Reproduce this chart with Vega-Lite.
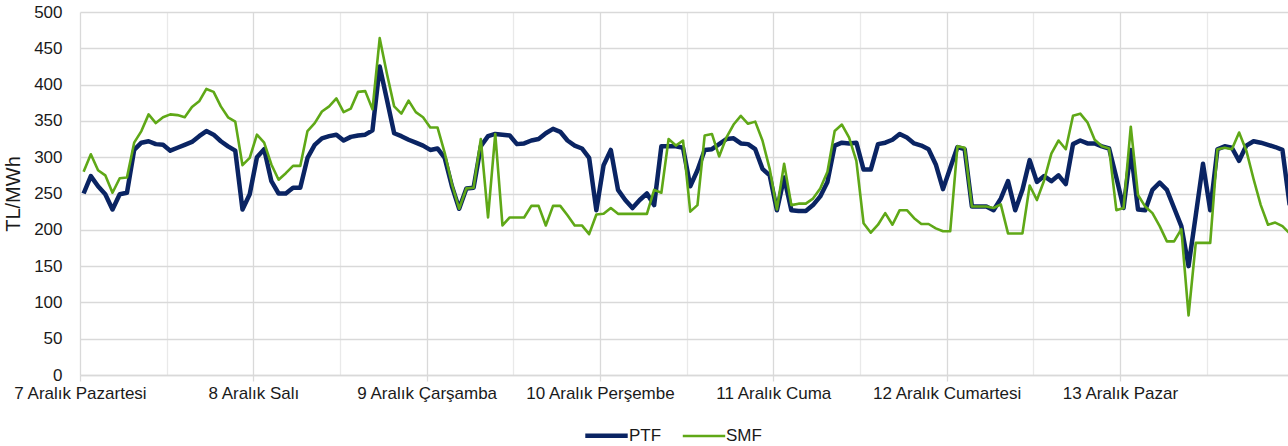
{
  "$schema": "https://vega.github.io/schema/vega-lite/v6.json",
  "width": 1208,
  "height": 363,
  "autosize": {"type": "none"},
  "padding": {"left": 80, "top": 12, "right": 0, "bottom": 71},
  "background": "white",
  "config": {"view": {"stroke": null}, "font": "Liberation Sans"},
  "data": {"values": [
    {"h":0,"PTF":250,"SMF":280},{"h":1,"PTF":274,"SMF":304},{"h":2,"PTF":260,"SMF":282},{"h":3,"PTF":249,"SMF":275},
    {"h":4,"PTF":228,"SMF":251},{"h":5,"PTF":249,"SMF":271},{"h":6,"PTF":251,"SMF":272},{"h":7,"PTF":310,"SMF":320},
    {"h":8,"PTF":320,"SMF":336},{"h":9,"PTF":322,"SMF":359},{"h":10,"PTF":318,"SMF":347},{"h":11,"PTF":317,"SMF":355},
    {"h":12,"PTF":309,"SMF":359},{"h":13,"PTF":313,"SMF":358},{"h":14,"PTF":317,"SMF":355},{"h":15,"PTF":321,"SMF":369},
    {"h":16,"PTF":329,"SMF":377},{"h":17,"PTF":336,"SMF":394},{"h":18,"PTF":331,"SMF":390},{"h":19,"PTF":322,"SMF":370},
    {"h":20,"PTF":315,"SMF":355},{"h":21,"PTF":309,"SMF":349},{"h":22,"PTF":228,"SMF":289},{"h":23,"PTF":249,"SMF":299},
    {"h":24,"PTF":300,"SMF":331},{"h":25,"PTF":311,"SMF":320},{"h":26,"PTF":267,"SMF":290},{"h":27,"PTF":250,"SMF":269},
    {"h":28,"PTF":250,"SMF":278},{"h":29,"PTF":258,"SMF":288},{"h":30,"PTF":258,"SMF":288},{"h":31,"PTF":299,"SMF":336},
    {"h":32,"PTF":317,"SMF":347},{"h":33,"PTF":326,"SMF":363},{"h":34,"PTF":329,"SMF":370},{"h":35,"PTF":331,"SMF":381},
    {"h":36,"PTF":323,"SMF":362},{"h":37,"PTF":328,"SMF":367},{"h":38,"PTF":330,"SMF":390},{"h":39,"PTF":331,"SMF":391},
    {"h":40,"PTF":337,"SMF":366},{"h":41,"PTF":425,"SMF":464},{"h":42,"PTF":379,"SMF":415},{"h":43,"PTF":333,"SMF":370},
    {"h":44,"PTF":329,"SMF":360},{"h":45,"PTF":324,"SMF":378},{"h":46,"PTF":320,"SMF":362},{"h":47,"PTF":316,"SMF":355},
    {"h":48,"PTF":310,"SMF":341},{"h":49,"PTF":312,"SMF":341},{"h":50,"PTF":299,"SMF":306},{"h":51,"PTF":260,"SMF":263},
    {"h":52,"PTF":229,"SMF":229},{"h":53,"PTF":257,"SMF":257},{"h":54,"PTF":258,"SMF":258},{"h":55,"PTF":315,"SMF":325},
    {"h":56,"PTF":329,"SMF":217},{"h":57,"PTF":332,"SMF":332},{"h":58,"PTF":331,"SMF":206},{"h":59,"PTF":330,"SMF":217},
    {"h":60,"PTF":318,"SMF":217},{"h":61,"PTF":319,"SMF":217},{"h":62,"PTF":323,"SMF":233},{"h":63,"PTF":325,"SMF":233},
    {"h":64,"PTF":333,"SMF":206},{"h":65,"PTF":339,"SMF":233},{"h":66,"PTF":335,"SMF":233},{"h":67,"PTF":323,"SMF":220},
    {"h":68,"PTF":316,"SMF":206},{"h":69,"PTF":312,"SMF":206},{"h":70,"PTF":299,"SMF":194},{"h":71,"PTF":227,"SMF":221},
    {"h":72,"PTF":289,"SMF":222},{"h":73,"PTF":310,"SMF":230},{"h":74,"PTF":255,"SMF":222},{"h":75,"PTF":241,"SMF":222},
    {"h":76,"PTF":230,"SMF":222},{"h":77,"PTF":241,"SMF":222},{"h":78,"PTF":250,"SMF":222},{"h":79,"PTF":234,"SMF":255},
    {"h":80,"PTF":315,"SMF":251},{"h":81,"PTF":315,"SMF":325},{"h":82,"PTF":315,"SMF":316},{"h":83,"PTF":313,"SMF":323},
    {"h":84,"PTF":260,"SMF":225},{"h":85,"PTF":282,"SMF":234},{"h":86,"PTF":310,"SMF":330},{"h":87,"PTF":311,"SMF":332},
    {"h":88,"PTF":318,"SMF":301},{"h":89,"PTF":325,"SMF":327},{"h":90,"PTF":326,"SMF":345},{"h":91,"PTF":319,"SMF":357},
    {"h":92,"PTF":318,"SMF":346},{"h":93,"PTF":311,"SMF":349},{"h":94,"PTF":284,"SMF":323},{"h":95,"PTF":275,"SMF":284},
    {"h":96,"PTF":227,"SMF":228},{"h":97,"PTF":272,"SMF":291},{"h":98,"PTF":227,"SMF":234},{"h":99,"PTF":226,"SMF":236},
    {"h":100,"PTF":226,"SMF":236},{"h":101,"PTF":234,"SMF":243},{"h":102,"PTF":246,"SMF":257},{"h":103,"PTF":266,"SMF":280},
    {"h":104,"PTF":316,"SMF":336},{"h":105,"PTF":320,"SMF":345},{"h":106,"PTF":319,"SMF":327},{"h":107,"PTF":320,"SMF":295},
    {"h":108,"PTF":283,"SMF":209},{"h":109,"PTF":283,"SMF":196},{"h":110,"PTF":318,"SMF":207},{"h":111,"PTF":320,"SMF":223},
    {"h":112,"PTF":324,"SMF":207},{"h":113,"PTF":332,"SMF":227},{"h":114,"PTF":327,"SMF":227},{"h":115,"PTF":319,"SMF":216},
    {"h":116,"PTF":316,"SMF":208},{"h":117,"PTF":311,"SMF":208},{"h":118,"PTF":290,"SMF":202},{"h":119,"PTF":256,"SMF":198},
    {"h":120,"PTF":285,"SMF":198},{"h":121,"PTF":314,"SMF":315},{"h":122,"PTF":311,"SMF":313},{"h":123,"PTF":232,"SMF":232},
    {"h":124,"PTF":232,"SMF":232},{"h":125,"PTF":232,"SMF":232},{"h":126,"PTF":227,"SMF":230},{"h":127,"PTF":243,"SMF":235},
    {"h":128,"PTF":267,"SMF":195},{"h":129,"PTF":227,"SMF":195},{"h":130,"PTF":255,"SMF":195},{"h":131,"PTF":296,"SMF":261},
    {"h":132,"PTF":266,"SMF":241},{"h":133,"PTF":274,"SMF":268},{"h":134,"PTF":267,"SMF":305},{"h":135,"PTF":275,"SMF":323},
    {"h":136,"PTF":263,"SMF":311},{"h":137,"PTF":318,"SMF":357},{"h":138,"PTF":323,"SMF":360},{"h":139,"PTF":319,"SMF":348},
    {"h":140,"PTF":319,"SMF":324},{"h":141,"PTF":315,"SMF":315},{"h":142,"PTF":312,"SMF":312},{"h":143,"PTF":272,"SMF":227},
    {"h":144,"PTF":230,"SMF":230},{"h":145,"PTF":310,"SMF":342},{"h":146,"PTF":228,"SMF":248},{"h":147,"PTF":227,"SMF":232},
    {"h":148,"PTF":255,"SMF":223},{"h":149,"PTF":265,"SMF":205},{"h":150,"PTF":255,"SMF":184},{"h":151,"PTF":230,"SMF":184},
    {"h":152,"PTF":205,"SMF":201},{"h":153,"PTF":150,"SMF":82},{"h":154,"PTF":220,"SMF":182},{"h":155,"PTF":291,"SMF":182},
    {"h":156,"PTF":227,"SMF":182},{"h":157,"PTF":311,"SMF":311},{"h":158,"PTF":315,"SMF":313},{"h":159,"PTF":313,"SMF":311},
    {"h":160,"PTF":295,"SMF":334},{"h":161,"PTF":316,"SMF":309},{"h":162,"PTF":322,"SMF":270},{"h":163,"PTF":320,"SMF":234},
    {"h":164,"PTF":317,"SMF":207},{"h":165,"PTF":314,"SMF":210},{"h":166,"PTF":310,"SMF":205},{"h":167,"PTF":234,"SMF":195}
  ]},
  "transform": [{"fold": ["PTF", "SMF"], "as": ["seri", "deger"]}],
  "mark": {"type": "line", "clip": true, "strokeJoin": "round", "strokeCap": "butt"},
  "encoding": {
    "x": {
      "field": "h",
      "type": "quantitative",
      "scale": {"domain": [-0.5, 166.77], "nice": false, "zero": false},
      "axis": {
        "title": null,
        "values": [-0.5, 11.5, 23.5, 35.5, 47.5, 59.5, 71.5, 83.5, 95.5, 107.5, 119.5, 131.5, 143.5, 155.5],
        "grid": true,
        "gridColor": {"condition": {"test": "(datum.value + 0.5) % 24 === 0", "value": "#d9d9d9"}, "value": "#e9e9e9"},
        "gridWidth": 1.3,
        "domainColor": "#d9d9d9",
        "domainWidth": 1.5,
        "ticks": true,
        "tickColor": {"condition": {"test": "(datum.value + 0.5) % 24 === 0", "value": "#d9d9d9"}, "value": "rgba(0,0,0,0)"},
        "tickSize": 6,
        "tickWidth": 1.3,
        "labelPadding": 4,
        "labelFontSize": 17,
        "labelColor": "#1a1a1a",
        "labelFlush": false,
        "labelOverlap": false,
        "labelBound": false,
        "labelExpr": "(datum.value + 0.5) % 24 === 0 ? ['7 Aralık Pazartesi', '8 Aralık Salı', '9 Aralık Çarşamba', '10 Aralık Perşembe', '11 Aralık Cuma', '12 Aralık Cumartesi', '13 Aralık Pazar'][(datum.value + 0.5) / 24] : ''"
      }
    },
    "y": {
      "field": "deger",
      "type": "quantitative",
      "scale": {"domain": [0, 500], "nice": false},
      "axis": {
        "title": "TL/MWh",
        "titleFontSize": 20,
        "titleFontWeight": "normal",
        "titleColor": "#1a1a1a",
        "titlePadding": 10,
        "values": [0, 50, 100, 150, 200, 250, 300, 350, 400, 450, 500],
        "grid": true,
        "gridColor": "#d9d9d9",
        "gridWidth": 1.3,
        "domain": false,
        "ticks": false,
        "labelPadding": 18,
        "labelFontSize": 17,
        "labelColor": "#1a1a1a"
      }
    },
    "color": {
      "field": "seri",
      "type": "nominal",
      "scale": {"domain": ["PTF", "SMF"], "range": ["#0a2463", "#5fa817"]},
      "legend": {
        "title": null,
        "orient": "none",
        "direction": "horizontal",
        "legendX": 503,
        "legendY": 400,
        "labelFontSize": 17,
        "labelColor": "#1a1a1a",
        "symbolType": "stroke",
        "symbolSize": 1800,
        "labelOffset": -1,
        "columnPadding": 15
      }
    },
    "strokeWidth": {
      "field": "seri",
      "type": "nominal",
      "scale": {"domain": ["PTF", "SMF"], "range": [4.5, 2.6]},
      "legend": {
        "title": null,
        "orient": "none",
        "direction": "horizontal",
        "legendX": 503,
        "legendY": 400,
        "labelFontSize": 17,
        "labelColor": "#1a1a1a",
        "symbolType": "stroke",
        "symbolSize": 1800,
        "labelOffset": -1,
        "columnPadding": 15
      }
    }
  }
}
